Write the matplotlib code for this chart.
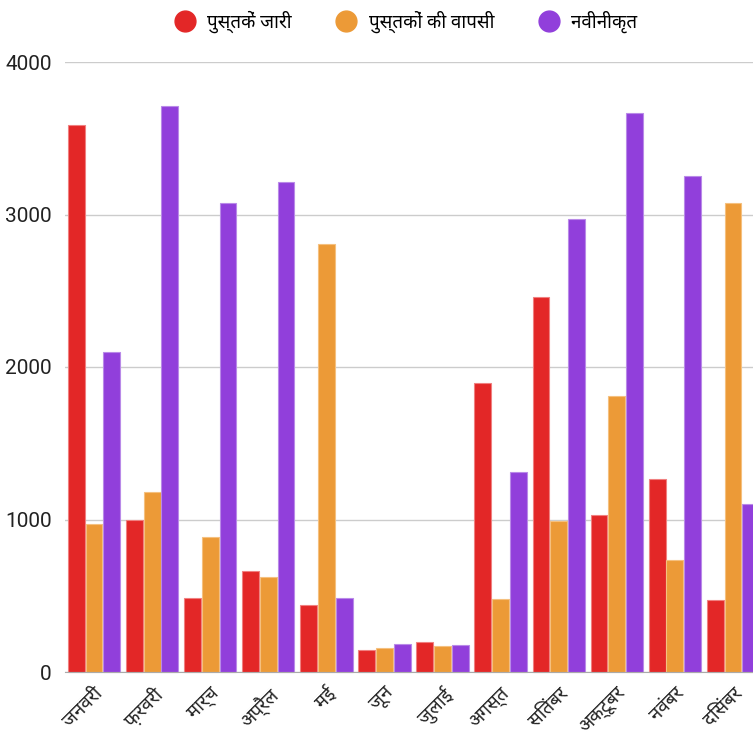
import matplotlib
matplotlib.use("Agg")
import matplotlib.pyplot as plt
from matplotlib import font_manager
from matplotlib.ft2font import FT2Font
from matplotlib.lines import Line2D
import numpy as np

months = ["जनवरी", "फ़रवरी", "मार्च", "अप्रैल", "मई", "जून", "जुलाई",
          "अगस्त", "सितंबर", "अक्टूबर", "नवंबर", "दिसंबर"]
series_names = ["पुस्तकें जारी", "पुस्तकों की वापसी", "नवीनीकृत"]
issued = [3590, 1000, 485, 662, 439, 144, 197, 1895, 2459, 1030, 1266, 472]
returned = [970, 1180, 885, 623, 2807, 157, 170, 479, 990, 1810, 734, 3075]
renewed = [2098, 3711, 3075, 3213, 485, 184, 177, 1311, 2970, 3666, 3252, 1102]
yticks = [0, 1000, 2000, 3000, 4000]

colors = ["#E32727", "#EC9A37", "#913FDB"]
edges = ["#F08080", "#F5C07F", "#B98AE8"]

# find a font with Devanagari glyphs, preferring sans, non-mono faces
cands = []
for f in font_manager.fontManager.ttflist:
    try:
        ft = FT2Font(f.fname)
        if 0x0928 in ft.get_charmap():
            cands.append(f.name)
    except Exception:
        pass
def score(n):
    s = 0
    if "Mono" in n or "Code" in n:
        s += 10
    if "Serif" in n:
        s += 5
    if "Noto Sans Devanagari" in n:
        s -= 5
    if "Sans" in n:
        s -= 2
    return s
cands = sorted(set(cands), key=score)
base = "Roboto"
fam = [base] + cands[:1] + ["DejaVu Sans"]
plt.rcParams["font.family"] = fam

fig = plt.figure(figsize=(7.53, 7.33), dpi=100)
ax = fig.add_axes([65/753, 61/733, 697/753, 610/733])

x = np.arange(len(months))
w = 0.29
off = 0.306
for i, (vals, c, e) in enumerate(zip([issued, returned, renewed], colors, edges)):
    ax.bar(x + (i - 1) * off, vals, width=w, color=c, edgecolor=e, linewidth=0.8,
           zorder=3, clip_on=False)

ax.set_xlim(-0.5, 11.5)
ax.set_ylim(0, 4000)
ax.set_yticks(yticks)
ax.set_yticklabels([str(v) for v in yticks], fontsize=15, color="#222222")
ax.set_xticks(x)
ax.set_xticklabels(months, rotation=45, ha="right", rotation_mode="anchor",
                   fontsize=13.5, color="#222222")
ax.tick_params(axis="both", length=0)
ax.tick_params(axis="y", pad=9.5)
ax.tick_params(axis="x", pad=9)
ax.grid(axis="y", color="#CCCCCC", linewidth=1, zorder=0)
for s in ["top", "right", "left"]:
    ax.spines[s].set_visible(False)
ax.spines["bottom"].set_color("#AAAAAA")
ax.spines["bottom"].set_zorder(4)

handles = [Line2D([0], [0], marker="o", linestyle="", markersize=15,
                  markerfacecolor=c, markeredgecolor=c) for c in colors]
ax.legend(handles, series_names, loc="center", bbox_to_anchor=(0.49, 1.066),
          ncol=3, frameon=False, fontsize=13.5, handlelength=1.0, handletextpad=0.7,
          columnspacing=2.4, borderaxespad=0)

fig.savefig("out.png", dpi=100)
